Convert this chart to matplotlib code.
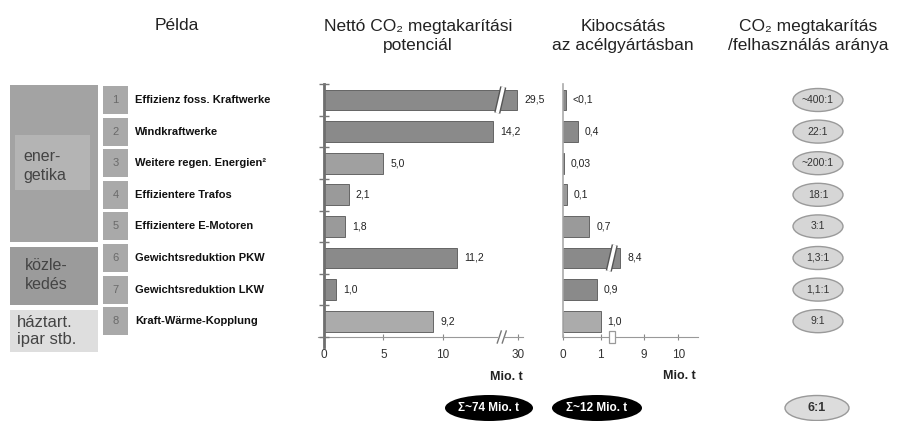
import numpy as np
import matplotlib.pyplot as plt
from matplotlib.patches import Rectangle, Ellipse
from matplotlib.ticker import NullLocator

plt.rcParams['font.family'] = ['Liberation Sans', 'DejaVu Sans']

# data
measures = ['Effizienz foss. Kraftwerke', 'Windkraftwerke', 'Weitere regen. Energien²',
            'Effizientere Trafos', 'Effizientere E-Motoren', 'Gewichtsreduktion PKW',
            'Gewichtsreduktion LKW', 'Kraft-Wärme-Kopplung']
numbers = ['1', '2', '3', '4', '5', '6', '7', '8']
groups = ['ener-\ngetika', 'közle-\nkedés', 'háztart.\nipar stb.']
potential = [29.5, 14.2, 5.0, 2.1, 1.8, 11.2, 1.0, 9.2]
potential_lbl = ['29,5', '14,2', '5,0', '2,1', '1,8', '11,2', '1,0', '9,2']
steel = [0.08, 0.4, 0.03, 0.1, 0.7, 8.4, 0.9, 1.0]
steel_lbl = ['<0,1', '0,4', '0,03', '0,1', '0,7', '8,4', '0,9', '1,0']
ratios = ['~400:1', '22:1', '~200:1', '18:1', '3:1', '1,3:1', '1,1:1', '9:1']
pot_ticks = [0, 5, 10, 30]
steel_ticks = [0, 1, 9, 10]
totals = ['Σ~74 Mio. t', 'Σ~12 Mio. t']
total_ratio = '6:1'

pot_colors = ['#8a8a8a', '#8a8a8a', '#a0a0a0', '#9a9a9a', '#9a9a9a', '#8a8a8a', '#8a8a8a', '#ababab']
steel_colors = ['#8a8a8a', '#8a8a8a', '#9a9a9a', '#9a9a9a', '#9a9a9a', '#8a8a8a', '#8a8a8a', '#ababab']

W, H = 897, 421
TOP, ROW_H, N = 84.2, 31.6, len(measures)

fig = plt.figure(figsize=(W / 100, H / 100), dpi=100)


def rect(x0, x1, y0, y1):
    return [x0 / W, 1 - y1 / H, (x1 - x0) / W, (y1 - y0) / H]


def broken(xp, fp):
    xp, fp = np.array(xp, float), np.array(fp, float)
    return (lambda v: np.interp(v, xp, fp), lambda v: np.interp(v, fp, xp))


bg = fig.add_axes([0, 0, 1, 1], zorder=0)
bg.set_xlim(0, W)
bg.set_ylim(H, 0)
bg.axis('off')

ax1 = fig.add_axes(rect(318, 523, TOP, TOP + N * ROW_H), zorder=1)
ax2 = fig.add_axes(rect(563, 698, TOP, TOP + N * ROW_H), zorder=1)
top = fig.add_axes([0, 0, 1, 1], zorder=5)
top.set_xlim(0, W)
top.set_ylim(H, 0)
top.axis('off')

ax1.set_xscale('function', functions=broken([-10, 0, 14.8, 30, 60], [-10, 0, 14.8, 16.3, 19.3]))
ax2.set_xscale('function', functions=broken([-10, 0, 1.3, 8.5, 9, 10, 20],
                                            [-10, 0, 1.3, 1.53, 2.16, 3.07, 12.17]))
ax1.set_xlim(-0.5, 34.2)
ax2.set_xlim(0, 10.58)

for ax, vals, lbls, cols, ticks in [(ax1, potential, potential_lbl, pot_colors, pot_ticks),
                                     (ax2, steel, steel_lbl, steel_colors, steel_ticks)]:
    ax.patch.set_alpha(0)
    ax.barh(range(N), vals, height=0.66, color=cols, edgecolor='#555555', lw=0.6, zorder=2)
    for i, (v, l) in enumerate(zip(vals, lbls)):
        ax.annotate(l, (v, i), xytext=(5, 0), textcoords='offset points',
                    va='center', ha='left', fontsize=7.5, color='#222222')
    ax.set_ylim(N - 0.5, -0.5)
    ax.set_yticks([])
    ax.set_xticks(ticks)
    ax.set_xticklabels([str(t) for t in ticks])
    ax.xaxis.set_minor_locator(NullLocator())
    ax.tick_params(axis='x', length=4, direction='inout', color='#888888',
                   labelsize=8.5, labelcolor='#333333', pad=7)
    for s in ['top', 'right']:
        ax.spines[s].set_visible(False)
    ax.spines['bottom'].set_color('#999999')

ax1.spines['left'].set_visible(False)
ax1.axvline(0, ymin=-0.04, ymax=1.0, color='#6e6e6e', lw=2, clip_on=False, zorder=3)
ax1.plot(np.zeros(N + 1), np.arange(-0.5, N), ls='none', marker='_', ms=7,
         color='#777777', clip_on=False, zorder=3)
ax2.spines['left'].set_color('#aaaaaa')
ax2.spines['left'].set_linewidth(1.2)


def to_px(ax, x, y):
    d = ax.transData.transform((x, y))
    return d[0], H - d[1]


# break marks
bx, by = to_px(ax1, 14.9, 0)
top.plot([bx - 3, bx + 3], [by + 13, by - 13], color='#555555', lw=4.5, solid_capstyle='butt')
top.plot([bx - 3, bx + 3], [by + 13, by - 13], color='white', lw=2.5, solid_capstyle='butt')
ax_x, ax_y = to_px(ax1, 14.9, N - 0.5)
top.add_patch(Rectangle((ax_x - 2, ax_y - 2), 7, 4, fc='white', ec='none'))
for dx in (-3, 2):
    top.plot([ax_x + dx, ax_x + dx + 4], [ax_y + 6, ax_y - 6], color='#777777', lw=1)

bx, by = to_px(ax2, 1.3, 5)
top.plot([bx - 3, bx + 3], [by + 13, by - 13], color='#555555', lw=4.5, solid_capstyle='butt')
top.plot([bx - 3, bx + 3], [by + 13, by - 13], color='white', lw=2.5, solid_capstyle='butt')
ax_x, ax_y = to_px(ax2, 1.3, N - 0.5)
top.add_patch(Rectangle((ax_x - 3, ax_y - 6), 6, 12, fc='white', ec='#999999', lw=0.9))

# titles
title_kw = dict(ha='center', va='center', fontsize=12.5, color='#222222', linespacing=1.3)
bg.text(177, 25, 'Példa', **title_kw)
bg.text(418, 36, 'Nettó CO₂ megtakarítási\npotenciál', **title_kw)
bg.text(623, 36, 'Kibocsátás\naz acélgyártásban', **title_kw)
bg.text(808, 36, 'CO₂ megtakarítás\n/felhasználás aránya', **title_kw)

# left group boxes
bg.add_patch(Rectangle((10, 85), 88, 157, fc='#a3a3a3', ec='none'))
bg.add_patch(Rectangle((15, 135), 75, 55, fc='#b4b4b4', ec='none'))
bg.add_patch(Rectangle((10, 247), 88, 58, fc='#9b9b9b', ec='none'))
bg.add_patch(Rectangle((10, 310), 88, 42, fc='#dedede', ec='none'))
bg.text(23, 166, groups[0], ha='left', va='center', fontsize=11.5, color='#444444', linespacing=1.3)
bg.text(25, 275, groups[1], ha='left', va='center', fontsize=11.5, color='#444444', linespacing=1.3)
bg.text(17, 331, groups[2], ha='left', va='center', fontsize=12, color='#444444', linespacing=1.1)

# rows
for i in range(N):
    yc = to_px(ax1, 0, i)[1]
    bg.add_patch(Rectangle((103, yc - 14), 25, 28, fc='#a9a9a9', ec='none'))
    bg.text(115.5, yc, numbers[i], ha='center', va='center', fontsize=8, color='#6a6a6a')
    bg.text(135, yc, measures[i], ha='left', va='center', fontsize=8, fontweight='bold', color='#111111')
    bg.add_patch(Ellipse((818, yc), 50, 23, fc='#d6d6d6', ec='#9a9a9a', lw=1))
    bg.text(818, yc, ratios[i], ha='center', va='center', fontsize=7.5, color='#333333')

# units and totals
bg.text(523, 377, 'Mio. t', ha='right', va='center', fontsize=9, fontweight='bold', color='#222222')
bg.text(696, 376, 'Mio. t', ha='right', va='center', fontsize=9, fontweight='bold', color='#222222')
for xc, w, t in [(489, 88, totals[0]), (597, 90, totals[1])]:
    bg.add_patch(Ellipse((xc, 408), w, 26, fc='black', ec='none'))
    bg.text(xc, 408, t, ha='center', va='center', fontsize=8.5, fontweight='bold', color='white')
bg.add_patch(Ellipse((817, 408), 64, 25, fc='#dcdcdc', ec='#999999', lw=1))
bg.text(817, 408, total_ratio, ha='center', va='center', fontsize=9, fontweight='bold', color='#333333')

fig.savefig('out.png', dpi=100)
